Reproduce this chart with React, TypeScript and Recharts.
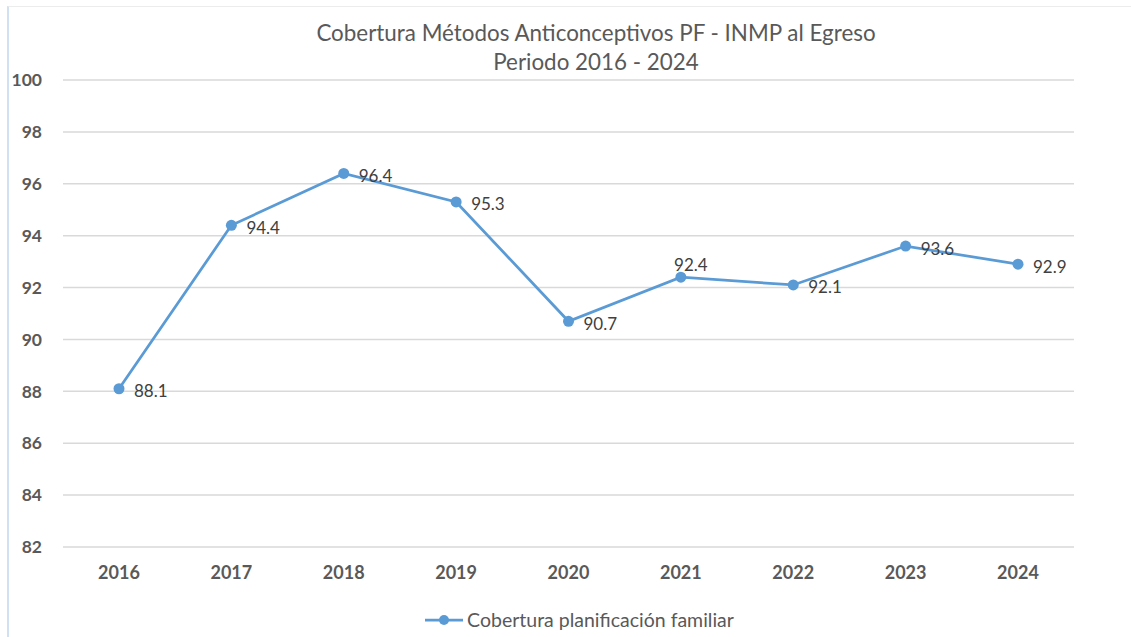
import React from 'react';
import { LineChart, Line, XAxis, YAxis, CartesianGrid, Legend, LabelList } from 'recharts';

const years = ['2016', '2017', '2018', '2019', '2020', '2021', '2022', '2023', '2024'];
const coverage = [88.1, 94.4, 96.4, 95.3, 90.7, 92.4, 92.1, 93.6, 92.9];
const yTicks = [82, 84, 86, 88, 90, 92, 94, 96, 98, 100];
const seriesName = 'Cobertura planificación familiar';
const titleLines = ['Cobertura Métodos Anticonceptivos PF - INMP al Egreso', 'Periodo 2016 - 2024'];

const data = years.map((year, i) => ({ year, value: coverage[i] }));

const FONT = 'Lato, "Open Sans", sans-serif';
const BLUE = '#5b9bd5';
const GRAY = '#595959';

const renderLabel = (props: any) => {
  const { x, y, value, index } = props;
  if (index === 5) {
    return (
      <text x={x + 10} y={y - 13} textAnchor="middle" dominantBaseline="central" fontSize={17} fill="#404040" fontFamily={FONT}>
        {value}
      </text>
    );
  }
  return (
    <text x={x + 15} y={y + 2} textAnchor="start" dominantBaseline="central" fontSize={17} fill="#404040" fontFamily={FONT}>
      {value}
    </text>
  );
};

const renderLegend = (props: any) => {
  const payload = props.payload || [];
  return (
    <div style={{ display: 'flex', justifyContent: 'center', alignItems: 'center', fontFamily: FONT }}>
      {payload.map((p: any, i: number) => (
        <div key={i} style={{ display: 'flex', alignItems: 'center', marginLeft: 28 }}>
          <svg width={38} height={14} style={{ marginRight: 4 }}>
            <line x1={0} y1={7} x2={38} y2={7} stroke={BLUE} strokeWidth={2.75} />
            <circle cx={19} cy={7} r={5} fill={BLUE} />
          </svg>
          <span style={{ fontSize: 19.5, color: GRAY }}>{p.value}</span>
        </div>
      ))}
    </div>
  );
};

export default function App() {
  return (
    <div style={{ position: 'absolute', left: 0, top: 0, width: 1131, height: 637, background: '#fff' }}>
      <div style={{ position: 'absolute', left: 7, top: 6, width: 1124, height: 631, borderTop: '1px solid #ececec', borderLeft: '2px solid #cfe1f2' }} />
      <div style={{ position: 'absolute', left: 0, top: 18, width: 1192, textAlign: 'center', fontFamily: FONT, fontSize: 22.4, color: GRAY, lineHeight: '29px' }}>
        {titleLines.map((t, i) => (
          <div key={i}>{t}</div>
        ))}
      </div>
      <LineChart width={1131} height={637} data={data} margin={{ top: 80, right: 57, left: 0, bottom: 60 }} style={{ position: 'absolute', left: 0, top: 0 }}>
        <CartesianGrid horizontal vertical={false} stroke="#d9d9d9" strokeWidth={1.5} />
        <XAxis
          dataKey="year"
          height={30}
          padding={{ left: 56, right: 56 }}
          axisLine={false}
          tickLine={false}
          tickSize={0}
          tickMargin={19}
          tick={{ fontSize: 18, fontWeight: 700, fill: GRAY, fontFamily: FONT }}
        />
        <YAxis
          width={63}
          domain={[82, 100]}
          ticks={yTicks}
          axisLine={false}
          tickLine={false}
          tickSize={0}
          tickMargin={21}
          tick={{ fontSize: 17.5, fontWeight: 700, fill: GRAY, fontFamily: FONT }}
        />
        <Legend verticalAlign="middle" align="center" layout="horizontal" content={renderLegend} wrapperStyle={{ top: 608, left: 0, width: 1131 }} />
        <Line
          type="linear"
          dataKey="value"
          name={seriesName}
          stroke={BLUE}
          strokeWidth={2.75}
          dot={{ r: 5.5, fill: BLUE, stroke: BLUE, strokeWidth: 0 }}
          activeDot={false}
          isAnimationActive={false}
        >
          <LabelList dataKey="value" content={renderLabel} />
        </Line>
      </LineChart>
    </div>
  );
}
